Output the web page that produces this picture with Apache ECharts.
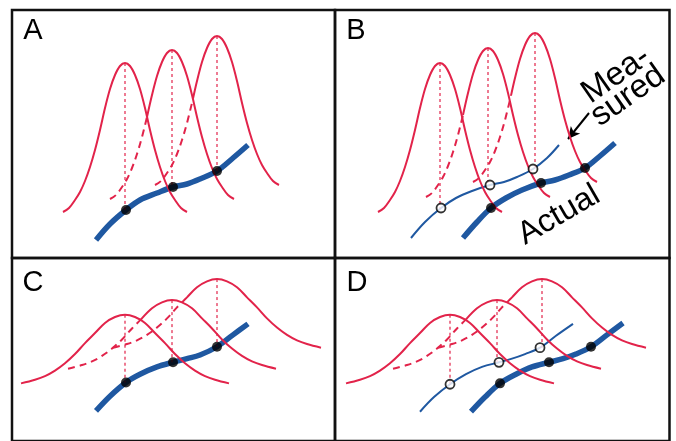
<!DOCTYPE html>
<html>
<head>
<meta charset="utf-8">
<script src="https://cdn.jsdelivr.net/npm/echarts@6/dist/echarts.min.js"></script>
<style>html,body{margin:0;padding:0;background:#fff}#c{width:676px;height:441px}</style>
</head>
<body>
<div id="c"></div>
<script>
// ---- Data (page-pixel coordinates of each panel) ----
const panelLabels = ['A', 'B', 'C', 'D'];

// bell profiles: horizontal offset from centre -> drop below the peak
const narrowDx   = [0, 5, 10, 15, 20, 25, 30, 35, 40, 45, 50, 56, 62];
const narrowDrop = [0, 3, 12, 26, 45, 67, 87, 104, 118, 129, 137, 145, 149];
const wideDx     = [0, 10, 20, 30, 40, 50, 60, 70, 80, 90, 104];
const wideDrop   = [0, 2.5, 9, 20, 31, 43, 53, 61, 67, 71, 75];

// peaks [centre x, peak y] of the three bells in each panel
const peaksA = [[125, 63], [172, 50], [217, 36]];
const peaksB = [[440, 63], [488, 48], [535, 33]];
const peaksC = [[125, 320], [172, 304], [217, 281]];
const peaksD = [[450, 320], [497, 304], [542, 281]];
// where the hidden (dashed) left flank of bells 2 and 3 ends
const hiddenNarrow = [null, -25, -24];
const hiddenWide   = [null, -31, -35];

// blue curves
const actualA   = [[96,240],[110,224],[126,210],[140,200],[157,193],[173,187],[187,184],[200,179],[217,171],[233,158],[248,145]];
const measuredB = [[411,238],[425,222],[441,208],[456,198],[472,191],[490,185],[504,182],[517,177],[533,169],[547,158],[559,145]];
const actualB   = [[463,238],[477,222],[491,208],[506,198],[522,190],[541,183],[555,180],[569,175],[585,168],[600,156],[615,143]];
const actualC   = [[96,425],[110,409],[126,394],[140,385],[157,377],[173,372],[187,368],[200,364],[217,355],[233,342],[248,330]];
const measuredD = [[420,426],[434,410],[450,396],[466,385],[482,377],[499,372],[512,368],[525,363],[540,356],[556,343],[573,330]];
const actualD   = [[471,426],[485,410],[500,395],[516,385],[532,377],[549,372],[563,368],[576,363],[591,355],[607,342],[623,329]];

// dots
const dotsA   = [[126,210],[173,187],[217,171]];
const openB   = [[441,208],[490,185],[533,169]];
const filledB = [[491,208],[541,183],[585,168]];
const dotsC   = [[126,394],[173,372],[217,355]];
const openD   = [[450,396],[499,372],[540,356]];
const filledD = [[500,395],[549,372],[591,355]];

// ---- build ----
const RED = '#e2234a', BLUE = '#1f58a1';
const panels = [
  {left: 12,  top: 10,  width: 323,   height: 248},
  {left: 335, top: 10,  width: 334.5, height: 248},
  {left: 12,  top: 258, width: 323,   height: 200},
  {left: 335, top: 258, width: 334.5, height: 200}
];

function fullProfile(dxs, drops) {
  const out = [];
  for (let i = dxs.length - 1; i > 0; i--) out.push([-dxs[i], drops[i]]);
  for (let i = 0; i < dxs.length; i++) out.push([dxs[i], drops[i]]);
  return out;
}
function interp(prof, dx) {
  for (let i = 0; i < prof.length - 1; i++) {
    const a = prof[i], b = prof[i + 1];
    if (dx >= a[0] && dx <= b[0]) return a[1] + (b[1] - a[1]) * (dx - a[0]) / (b[0] - a[0]);
  }
  return prof[prof.length - 1][1];
}
function bellParts(peak, prof, split) {
  const pts = p => [peak[0] + p[0], peak[1] + p[1]];
  if (split == null) return {solid: prof.map(pts), hidden: null};
  const sp = [split, interp(prof, split)];
  const hidden = prof.filter(p => p[0] < split - 2).concat([sp]).map(pts);
  const solid = [sp].concat(prof.filter(p => p[0] > split + 2)).map(pts);
  return {solid, hidden};
}

const series = [];
function line(gi, data, color, width, type, z, smooth) {
  series.push({
    type: 'line', xAxisIndex: gi, yAxisIndex: gi, data: data,
    smooth: smooth === false ? false : 0.35,
    symbol: 'none', silent: true, z: z,
    lineStyle: {color: color, width: width, type: type || 'solid', cap: 'butt', join: 'round'}
  });
  return series[series.length - 1];
}
function dots(gi, data, open) {
  series.push({
    type: 'scatter', xAxisIndex: gi, yAxisIndex: gi, data: data, silent: true, z: 10,
    symbolSize: open ? 9 : 10,
    itemStyle: open ? {color: '#fff', borderColor: '#000', borderWidth: 1.8} : {color: '#000'}
  });
}
function bells(gi, peaks, prof, splits, dotYs) {
  peaks.forEach((pk, i) => {
    const parts = bellParts(pk, prof, splits[i]);
    line(gi, parts.solid, RED, 2, 'solid', 5);
    if (parts.hidden) line(gi, parts.hidden, RED, 2, [7, 5], 5);
    line(gi, [[pk[0], pk[1]], [pk[0], dotYs[i]]], RED, 1.2, [3, 3], 4, false);
  });
}

const narrow = fullProfile(narrowDx, narrowDrop);
const wide = fullProfile(wideDx, wideDrop);

// Panel A
line(0, actualA, BLUE, 5.5, 'solid', 2);
bells(0, peaksA, narrow, hiddenNarrow, dotsA.map(d => d[1]));
dots(0, dotsA, false);
// Panel B
const mB = line(1, measuredB, BLUE, 2, 'solid', 2);
mB.markLine = {
  silent: true, symbol: ['none', 'arrow'], symbolSize: [9, 12], animation: false,
  label: {show: false}, lineStyle: {color: '#000', width: 2, type: 'solid'},
  data: [[{coord: [589, 113]}, {coord: [568, 139]}]]
};
line(1, actualB, BLUE, 5.5, 'solid', 2);
bells(1, peaksB, narrow, hiddenNarrow, openB.map(d => d[1]));
dots(1, openB, true);
dots(1, filledB, false);
// Panel C
line(2, actualC, BLUE, 5.5, 'solid', 2);
bells(2, peaksC, wide, hiddenWide, dotsC.map(d => d[1]));
dots(2, dotsC, false);
// Panel D
line(3, measuredD, BLUE, 2, 'solid', 2);
line(3, actualD, BLUE, 5.5, 'solid', 2);
bells(3, peaksD, wide, hiddenWide, openD.map(d => d[1]));
dots(3, openD, true);
dots(3, filledD, false);

const FONT = '"Liberation Sans", Arial, Helvetica, sans-serif';
const labelPos = [[33, 31], [356, 31], [33, 283], [357, 283]];
const graphic = panelLabels.map((t, i) => ({
  type: 'text', x: labelPos[i][0], y: labelPos[i][1], z: 20,
  style: {text: t, font: '29px ' + FONT, fill: '#000', align: 'center', verticalAlign: 'middle'}
}));
graphic.push({type: 'text', x: 559, y: 215, rotation: 30 * Math.PI / 180, z: 20,
  style: {text: 'Actual', font: '32px ' + FONT, fill: '#000', align: 'center', verticalAlign: 'middle'}});
const rotM = 35 * Math.PI / 180;
graphic.push({type: 'text', x: 616, y: 75, rotation: rotM, z: 20,
  style: {text: 'Mea-', font: '33px ' + FONT, fill: '#000', align: 'center', verticalAlign: 'middle'}});
graphic.push({type: 'text', x: 628, y: 96, rotation: rotM, z: 20,
  style: {text: 'sured', font: '33px ' + FONT, fill: '#000', align: 'center', verticalAlign: 'middle'}});

const chart = echarts.init(document.getElementById('c'), null, {renderer: 'canvas'});
chart.setOption({
  animation: false,
  backgroundColor: '#fff',
  grid: panels.map(p => Object.assign({show: true, borderColor: '#111', borderWidth: 2.5, backgroundColor: 'transparent', containLabel: false}, p)),
  xAxis: panels.map((p, i) => ({type: 'value', gridIndex: i, min: p.left, max: p.left + p.width, show: false})),
  yAxis: panels.map((p, i) => ({type: 'value', gridIndex: i, min: p.top, max: p.top + p.height, inverse: true, show: false})),
  series: series,
  graphic: graphic
});
</script>
</body>
</html>
